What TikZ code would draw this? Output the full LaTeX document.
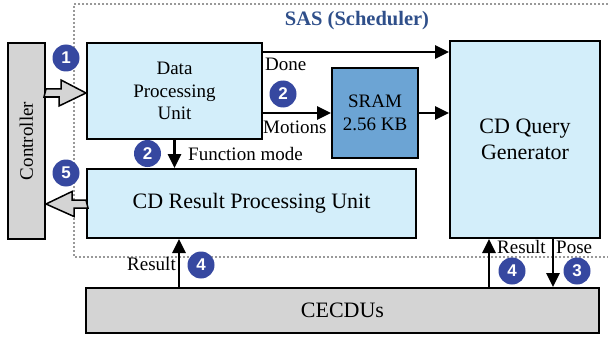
\documentclass[tikz,border=0pt]{standalone}
\usepackage{fontspec}
\setmainfont{Liberation Serif}
\newfontfamily\numfont{Liberation Sans}
\usetikzlibrary{arrows.meta,calc}
\definecolor{lblue}{HTML}{D3EEFA}
\definecolor{sramblue}{HTML}{6CA4D4}
\definecolor{lgray}{HTML}{D4D4D4}
\definecolor{stepblue}{HTML}{3648A0}
\definecolor{sastext}{HTML}{2F4F8A}
\definecolor{dotgray}{HTML}{999999}
\tikzset{
  box/.style={draw=black, line width=2pt, inner sep=0pt, align=center,
    font=\fontsize{19}{22.5}\selectfont},
  bigbox/.style={box, font=\fontsize{22}{26}\selectfont},
  conn/.style={line width=2.6pt, -{Triangle[length=14pt,width=13pt]}},
  hollowarrow/.style={draw=black, line width=1.5pt, fill=lgray, line join=miter},
  stepnum/.style={circle, fill=stepblue, minimum size=27pt, inner sep=0pt,
    text=white, font=\numfont\bfseries\fontsize{17}{17}\selectfont},
  lbl/.style={inner sep=0pt, font=\fontsize{19}{22}\selectfont},
}
\begin{document}
\begin{tikzpicture}[x=1pt,y=-1pt]
\useasboundingbox (0,0) rectangle (608,337);
% dotted scheduler region
\draw[dotgray, line width=2pt, dash pattern=on 2pt off 2pt]
  (612,4) -- (74,4) -- (74,257) -- (612,257);
\node[font=\bfseries\fontsize{20.5}{24}\selectfont, text=sastext] (sas) at (357,21) {SAS (Scheduler)};

% boxes
\node[box, fill=lgray, minimum width=37pt, minimum height=196pt] (ctrl) at (26.5,141) {};
\node[rotate=90, font=\fontsize{19}{22}\selectfont] (ctrltxt) at (ctrl.center) {Controller};
\node[box, fill=lblue, minimum width=175pt, minimum height=96pt] (dpu) at (174.5,91) {Data\\Processing\\Unit};
\node[box, fill=sramblue, minimum width=86pt, minimum height=90pt] (sram) at (375,113) {SRAM\\2.56 KB};
\node[bigbox, fill=lblue, minimum width=150pt, minimum height=197pt] (cdqg) at (525,139.5) {CD Query\\Generator};
\node[bigbox, fill=lblue, minimum width=329pt, minimum height=69pt] (cdrpu) at (251.5,203.5) {CD Result Processing Unit};
\node[bigbox, fill=lgray, minimum width=513pt, minimum height=45pt] (cecdu) at (342.5,310.5) {CECDUs};

% helper coordinates
\coordinate (doney) at (0,52);
\coordinate (h1) at (0,93);
\coordinate (h2) at (0,204);
\coordinate (r1x) at (179,0);
\coordinate (r2x) at (489,0);
\coordinate (posex) at (553,0);

% connectors
\draw[conn] (dpu.east |- doney) -- (cdqg.west |- doney);
\draw[conn] (dpu.east |- sram.west) -- (sram.west);
\draw[conn] (sram.east) -- (cdqg.west |- sram.east);
\draw[conn] (dpu.south) -- (dpu.south |- cdrpu.north);
\draw[conn] (cecdu.north -| r1x) -- (cdrpu.south -| r1x);
\draw[conn] (cecdu.north -| r2x) -- (cdqg.south -| r2x);
\draw[conn] (cdqg.south -| posex) -- (cecdu.north -| posex);

% hollow arrows
\coordinate (h1s) at (ctrl.east |- h1);
\draw[hollowarrow] (h1s) ++(0,-4) -- ++(15,0) -- ++(0,-9) -- (dpu.west |- h1s)
  -- ++(-27,13) -- ++(0,-9) -- ++(-15,0) -- cycle;
\coordinate (h2s) at (cdrpu.west |- h2);
\draw[hollowarrow] (h2s) ++(0,-4) -- ++(-14,0) -- ++(0,-8.5) -- (ctrl.east |- h2s)
  -- ++(28,12.5) -- ++(0,-8.5) -- ++(14,0) -- cycle;

% labels
\node[lbl, anchor=west] (done) at (265,64) {Done};
\node[lbl, anchor=west] (motions) at (263,127) {Motions};
\node[lbl, anchor=west] (fmode) at (188,154) {Function mode};
\node[lbl, anchor=east] (res1) at (176,264) {Result};
\node[lbl, anchor=west] (res2) at (497,247) {Result};
\node[lbl, anchor=west] (pose) at (556,247) {Pose};

% step numbers
\node[stepnum] (s1) at (66,58) {1};
\node[stepnum] (s2a) at (283,94) {2};
\node[stepnum] (s2b) at (147.5,153.5) {2};
\node[stepnum] (s5) at (66,173) {5};
\node[stepnum] (s4a) at (201,265) {4};
\node[stepnum] (s4b) at (512,271) {4};
\node[stepnum] (s3) at (577,271) {3};
\end{tikzpicture}
\end{document}
